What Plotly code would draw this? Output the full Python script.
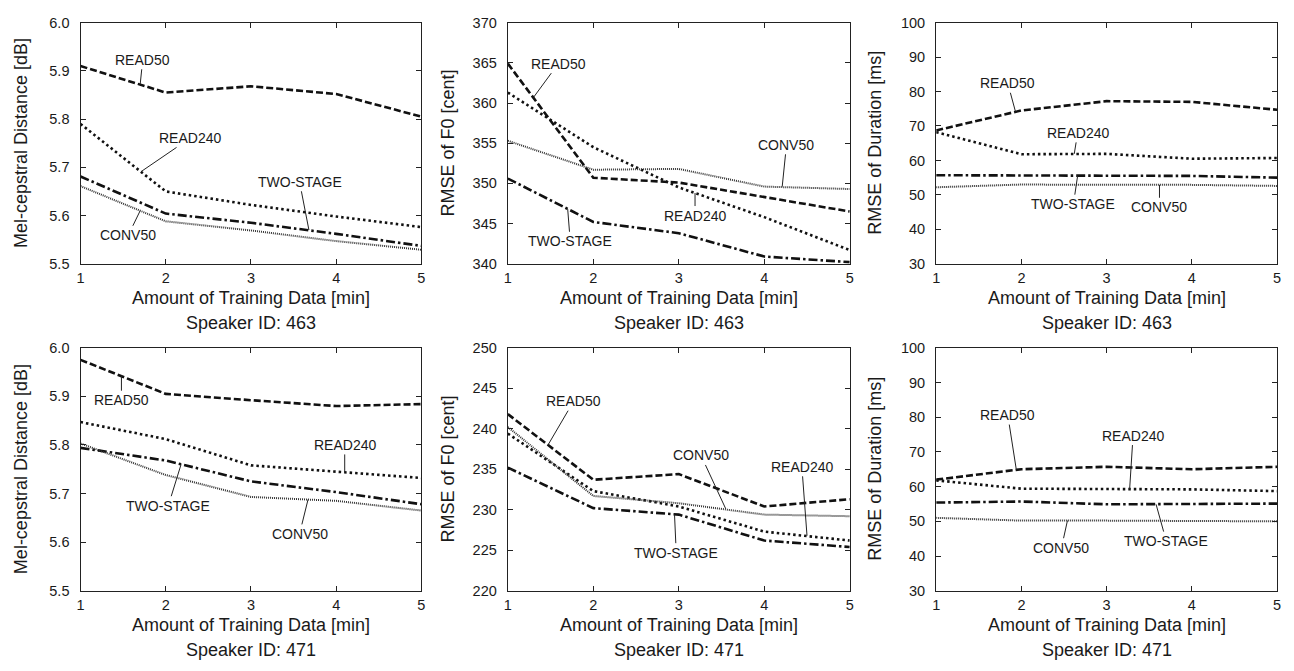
import plotly.graph_objects as go

# ---------------- data ----------------
minutes = [1, 2, 3, 4, 5]
series_names = ["READ50", "READ240", "TWO-STAGE", "CONV50"]

# Speaker 463
mcd463_read50 = [5.910, 5.855, 5.868, 5.852, 5.805]
mcd463_read240 = [5.790, 5.650, 5.622, 5.598, 5.576]
mcd463_twostage = [5.681, 5.604, 5.585, 5.562, 5.537]
mcd463_conv50 = [5.661, 5.588, 5.569, 5.547, 5.529]

f0463_read50 = [364.9, 350.7, 350.1, 348.3, 346.5]
f0463_read240 = [361.3, 354.5, 349.5, 345.8, 341.7]
f0463_twostage = [350.6, 345.2, 343.8, 340.9, 340.2]
f0463_conv50 = [355.3, 351.7, 351.8, 349.6, 349.3]

dur463_read50 = [68.7, 74.5, 77.2, 77.0, 74.7]
dur463_read240 = [68.2, 61.8, 61.9, 60.5, 60.7]
dur463_twostage = [55.7, 55.7, 55.6, 55.5, 55.0]
dur463_conv50 = [52.2, 53.0, 52.9, 52.9, 52.6]

# Speaker 471
mcd471_read50 = [5.975, 5.905, 5.892, 5.880, 5.884]
mcd471_read240 = [5.847, 5.812, 5.758, 5.745, 5.732]
mcd471_twostage = [5.794, 5.768, 5.725, 5.703, 5.678]
mcd471_conv50 = [5.803, 5.738, 5.693, 5.685, 5.665]

f0471_read50 = [241.8, 233.7, 234.4, 230.4, 231.3]
f0471_read240 = [239.4, 232.3, 230.4, 227.3, 226.2]
f0471_twostage = [235.2, 230.2, 229.4, 226.2, 225.4]
f0471_conv50 = [240.2, 231.7, 230.8, 229.4, 229.2]

dur471_read50 = [62.0, 65.0, 65.7, 65.0, 65.7]
dur471_read240 = [61.8, 59.4, 59.3, 59.2, 58.7]
dur471_twostage = [55.4, 55.7, 54.9, 54.9, 55.1]
dur471_conv50 = [51.0, 50.2, 50.2, 50.2, 50.0]

y_titles = ["Mel-cepstral Distance [dB]", "RMSE of F0 [cent]", "RMSE of Duration [ms]"]
x_title = "Amount of Training Data [min]"
speakers = ["Speaker ID: 463", "Speaker ID: 471"]

panels = [
    [mcd463_read50, mcd463_read240, mcd463_twostage, mcd463_conv50],
    [f0463_read50, f0463_read240, f0463_twostage, f0463_conv50],
    [dur463_read50, dur463_read240, dur463_twostage, dur463_conv50],
    [mcd471_read50, mcd471_read240, mcd471_twostage, mcd471_conv50],
    [f0471_read50, f0471_read240, f0471_twostage, f0471_conv50],
    [dur471_read50, dur471_read240, dur471_twostage, dur471_conv50],
]

# ---------------- label placement (text pos, leader tip) ----------------
labels = [
    [("READ50", 1.73, 5.923, 1.70, 5.872), ("READ240", 2.29, 5.761, 1.71, 5.691),
     ("TWO-STAGE", 3.57, 5.670, 3.68, 5.570), ("CONV50", 1.56, 5.559, 1.70, 5.610)],
    [("READ50", 1.59, 364.9, 1.30, 360.7), ("CONV50", 4.26, 354.8, 4.21, 349.6),
     ("READ240", 3.19, 346.0, 3.19, 348.8), ("TWO-STAGE", 1.73, 342.8, 1.70, 346.8)],
    [("READ50", 1.84, 82.4, 1.93, 74.2), ("READ240", 2.66, 68.0, 2.62, 61.9),
     ("TWO-STAGE", 2.61, 47.3, 2.66, 55.6), ("CONV50", 3.62, 46.4, 3.62, 52.9)],
    [("READ50", 1.48, 5.892, 1.48, 5.943), ("READ240", 4.10, 5.800, 4.10, 5.744),
     ("TWO-STAGE", 2.03, 5.675, 2.18, 5.760), ("CONV50", 3.57, 5.617, 3.67, 5.688)],
    [("READ50", 1.77, 243.4, 1.47, 238.0), ("CONV50", 3.26, 236.7, 3.55, 230.1),
     ("READ240", 4.44, 235.3, 4.50, 226.8), ("TWO-STAGE", 2.97, 224.7, 2.95, 229.4)],
    [("READ50", 1.84, 80.6, 1.94, 64.9), ("READ240", 3.31, 74.7, 3.27, 59.3),
     ("CONV50", 2.47, 42.4, 2.54, 50.2), ("TWO-STAGE", 3.70, 44.3, 3.58, 54.9)],
]

y_ranges = [[5.5, 6.0], [340, 370], [30, 100]]
y_ranges_bottom = [[5.5, 6.0], [220, 250], [30, 100]]
y_dticks = [0.1, 5, 10]
y_formats = [".1f", "d", "d"]

# ---------------- styles ----------------
W, H = 1294, 671
FONT = "Liberation Sans, Arial, Helvetica, sans-serif"
TXT = "#1a1a1a"
styles = [
    dict(color="#111111", width=2.6, dash="7px,3px"),
    dict(color="#111111", width=2.6, dash="2.5px,3px"),
    dict(color="#111111", width=2.6, dash="9px,3px,2.5px,3px"),
    dict(color="#333333", width=2.0, dash="1px,1px"),
]

col_px = [(77, 420), (507, 851), (938, 1281)]
row_px = [(15, 262), (348, 597)]
ytitle_x = [17, 447, 877]
xtitle_y = [297, 632]
spk_y = [323, 658]


def pxx(v):
    return v / W


def pxy(v):
    return 1 - v / H


fig = go.Figure()
annotations = []
layout_axes = {}

for p, series in enumerate(panels):
    r, c = divmod(p, 3)
    idx = p + 1
    xa = "x" if idx == 1 else f"x{idx}"
    ya = "y" if idx == 1 else f"y{idx}"
    for s, vals in enumerate(series):
        fig.add_trace(go.Scatter(
            x=minutes, y=vals, mode="lines", name=series_names[s],
            line=styles[s], xaxis=xa, yaxis=ya, showlegend=False,
        ))
    yr = y_ranges[c] if r == 0 else y_ranges_bottom[c]
    axis_common = dict(
        showline=True, mirror="ticks", ticks="inside", ticklen=5, tickwidth=1,
        linecolor="#222222", linewidth=1.3, tickcolor="#222222",
        showgrid=False, zeroline=False,
        tickfont=dict(family=FONT, size=14.5, color=TXT),
    )
    layout_axes["xaxis" if idx == 1 else f"xaxis{idx}"] = dict(
        axis_common, range=[1, 5], dtick=1, tick0=1,
        domain=[pxx(col_px[c][0]), pxx(col_px[c][1])],
        anchor=ya, ticklabelstandoff=1,
    )
    layout_axes["yaxis" if idx == 1 else f"yaxis{idx}"] = dict(
        axis_common, range=yr, dtick=y_dticks[c], tick0=yr[0],
        tickformat=y_formats[c],
        domain=[pxy(row_px[r][1]), pxy(row_px[r][0])],
        anchor=xa, ticklabelstandoff=7,
    )
    # axis titles
    annotations.append(dict(
        text=y_titles[c], xref="paper", yref="paper", textangle=-90,
        x=pxx(ytitle_x[c]), y=pxy((row_px[r][0] + row_px[r][1]) / 2),
        xanchor="center", yanchor="middle", showarrow=False,
        font=dict(family=FONT, size=18, color=TXT),
    ))
    cx = (col_px[c][0] + col_px[c][1]) / 2
    annotations.append(dict(
        text=x_title, xref="paper", yref="paper",
        x=pxx(cx), y=pxy(xtitle_y[r]), xanchor="center", yanchor="middle",
        showarrow=False, font=dict(family=FONT, size=18, color=TXT),
    ))
    annotations.append(dict(
        text=speakers[r], xref="paper", yref="paper",
        x=pxx(cx), y=pxy(spk_y[r]), xanchor="center", yanchor="middle",
        showarrow=False, font=dict(family=FONT, size=18, color=TXT),
    ))
    # curve labels with leader lines
    for (txt, tx, ty, ax_, ay_) in labels[p]:
        annotations.append(dict(
            text=txt, x=ax_, y=ay_, ax=tx, ay=ty, xref=xa, yref=ya,
            axref=xa, ayref=ya, showarrow=True, arrowhead=0,
            arrowwidth=1, arrowcolor="#222222", standoff=0, startstandoff=0,
            font=dict(family=FONT, size=14, color=TXT), borderpad=1,
        ))

fig.update_layout(
    width=W, height=H, margin=dict(l=0, r=0, t=0, b=0),
    paper_bgcolor="white", plot_bgcolor="white",
    annotations=annotations, showlegend=False, **layout_axes,
)

fig.write_html("out.html", config={"displayModeBar": False},
               post_script="document.body.style.margin='0';")
